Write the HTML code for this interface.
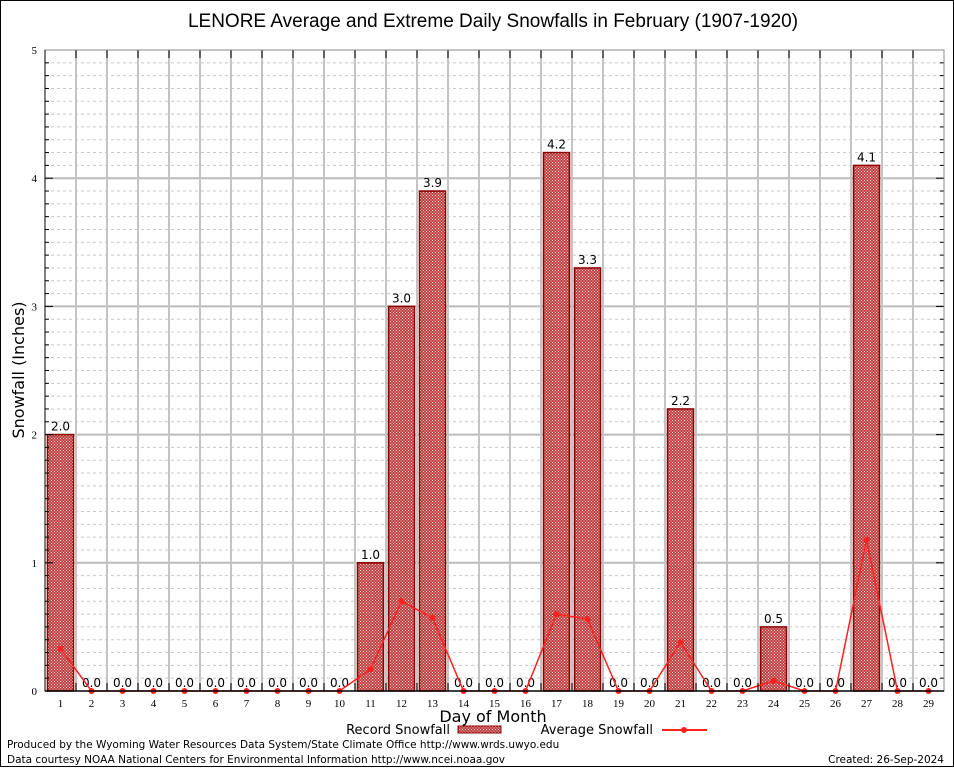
<!DOCTYPE html>
<html><head><meta charset="utf-8"><style>
body{margin:0;background:#fff;}
svg{display:block;font-family:"DejaVu Sans","Liberation Sans",sans-serif;}
</style></head><body>
<svg id="chart" width="954" height="768" viewBox="0 0 954 768">
<defs>
<pattern id="hatch" width="3" height="3" patternUnits="userSpaceOnUse">
<rect width="3" height="3" fill="#c04040"/>
<rect x="0" y="0" width="1" height="1" fill="#f4d8d8"/>
<rect x="1.5" y="1.5" width="1" height="1" fill="#f4d8d8"/>
</pattern>
</defs>
<rect x="0.5" y="0.5" width="953" height="766" fill="#fff" stroke="#000"/>
<text x="493" y="27" font-size="19" text-anchor="middle" font-family="Liberation Sans, sans-serif">LENORE Average and Extreme Daily Snowfalls in February (1907-1920)</text>
<g id="grid"></g>
<g id="bars"></g>
<g id="line"></g>
<g id="axes"></g>
<text x="24" y="370" font-size="16" text-anchor="middle" transform="rotate(-90 24 370)">Snowfall (Inches)</text>
<text x="493" y="722" font-size="16" text-anchor="middle">Day of Month</text>
<g>
<text x="450" y="734" font-size="13" text-anchor="end">Record Snowfall</text>
<rect x="458" y="726" width="43" height="7" fill="url(#hatch)" stroke="#8b0000"/>
<text x="653" y="734" font-size="13" text-anchor="end">Average Snowfall</text>
<line x1="662" y1="730" x2="707" y2="730" stroke="#ff2020" stroke-width="2"/>
<circle cx="684" cy="730" r="3" fill="#ff2020"/>
</g>
<text x="7" y="748" font-size="10.5">Produced by the Wyoming Water Resources Data System/State Climate Office http://www.wrds.uwyo.edu</text>
<text x="7" y="763" font-size="10.5">Data courtesy NOAA National Centers for Environmental Information http://www.ncei.noaa.gov</text>
<text x="944" y="763" font-size="10.5" text-anchor="end">Created: 26-Sep-2024</text>
</svg>
<script>
const days=[1,2,3,4,5,6,7,8,9,10,11,12,13,14,15,16,17,18,19,20,21,22,23,24,25,26,27,28,29];
const recordValues=[2.0,0,0,0,0,0,0,0,0,0,1.0,3.0,3.9,0,0,0,4.2,3.3,0,0,2.2,0,0,0.5,0,0,4.1,0,0];
const averageValues=[0.33,0,0,0,0,0,0,0,0,0,0.17,0.7,0.57,0,0,0,0.6,0.56,0,0,0.38,0,0,0.08,0,0,1.18,0,0];
const yTicks=[0,1,2,3,4,5];
const NS="http://www.w3.org/2000/svg";
const L=45,R=944,T=50,B=691,yMax=5,bw=(R-L)/days.length;
function x(d){return L+bw*(d-0.5);}
function y(v){return B-(B-T)*v/yMax;}
function mk(tag,attrs,parent){const e=document.createElementNS(NS,tag);for(const k in attrs)e.setAttribute(k,attrs[k]);parent.appendChild(e);return e;}
const grid=document.getElementById('grid'),bars=document.getElementById('bars'),line=document.getElementById('line'),axes=document.getElementById('axes');
for(let i=1;i<yMax*10;i++){if(i%10===0)continue;
 const g=mk('line',{x1:L,x2:R,y1:y(i/10),y2:y(i/10),stroke:'#c8c8c8','stroke-dasharray':'3,3'},grid);
 
 
 mk('line',{x1:L,x2:L+4,y1:y(i/10),y2:y(i/10),stroke:'#000'},axes);
 mk('line',{x1:R,x2:R-4,y1:y(i/10),y2:y(i/10),stroke:'#000'},axes);}
yTicks.forEach(t=>{
 if(t>0&&t<yMax){const g=mk('line',{x1:L,x2:R,y1:y(t),y2:y(t),stroke:'#bbb','stroke-width':2},grid);
 
 }
 mk('line',{x1:L,x2:L+8,y1:y(t),y2:y(t),stroke:'#000'},axes);
 mk('line',{x1:R,x2:R-8,y1:y(t),y2:y(t),stroke:'#000'},axes);
 const tx=mk('text',{x:L-8,y:y(t)+4,'font-size':11,'text-anchor':'end','font-family':'Liberation Serif, serif'},axes);tx.textContent=t;
 
 });
for(let i=1;i<days.length;i++){const xx=L+bw*i;
 const g=mk('line',{x1:xx,x2:xx,y1:T,y2:B,stroke:'#c4c4c4','stroke-width':2},grid);
 
 
 mk('line',{x1:xx,x2:xx,y1:T,y2:T+8,stroke:'#000'},axes);
 mk('line',{x1:xx,x2:xx,y1:B,y2:B-8,stroke:'#000'},axes);}
const frame=mk('rect',{x:L,y:T,width:R-L,height:B-T,fill:'none',stroke:'#888'},axes);


mk('line',{x1:L,x2:R,y1:B,y2:B,stroke:'#000','stroke-width':1.5},axes);
mk('line',{x1:L,x2:L,y1:T,y2:B,stroke:'#000'},axes);
days.forEach((d,i)=>{
 const v=recordValues[i];
 if(v>0){const r=mk('rect',{x:x(d)-13,y:y(v),width:26,height:B-y(v),fill:'url(#hatch)',stroke:'#8b0000','stroke-width':1.5},bars);
 
 }
 const lb=mk('text',{x:x(d),y:y(v)-4,'font-size':12,'text-anchor':'middle'},bars);lb.textContent=v.toFixed(1);
 
 
 const tl=mk('text',{x:x(d),y:B+16,'font-size':11,'text-anchor':'middle','font-family':'Liberation Serif, serif'},axes);tl.textContent=d;
 
 
});
const pl=mk('polyline',{points:days.map((d,i)=>x(d)+','+y(averageValues[i])).join(' '),fill:'none',stroke:'#ff2020','stroke-width':1.5},line);


days.forEach((d,i)=>{const c=mk('circle',{cx:x(d),cy:y(averageValues[i]),r:3,fill:'#ff2020'},line);
 
 });
</script>
</body></html>
